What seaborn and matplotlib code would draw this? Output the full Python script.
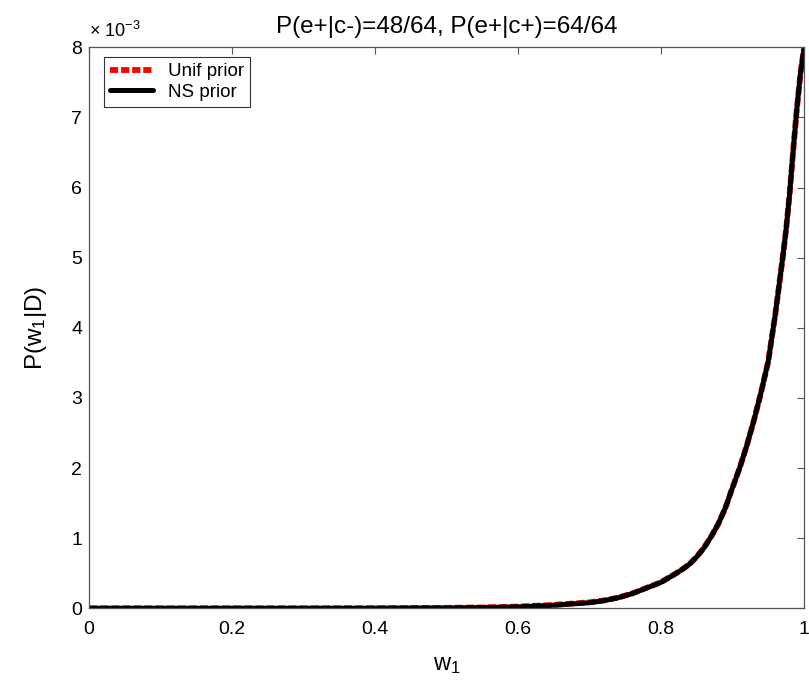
import numpy as np
import pandas as pd
import matplotlib
matplotlib.use("Agg")
import matplotlib.pyplot as plt
from matplotlib.ticker import FuncFormatter, MultipleLocator
import seaborn as sns

# Posterior over the causal strength w1 under two priors
w1 = [0.0, 0.1, 0.2, 0.3, 0.4, 0.5, 0.55, 0.6, 0.65, 0.7, 0.72, 0.74, 0.76,
      0.78, 0.8, 0.82, 0.83, 0.84, 0.85, 0.86, 0.87, 0.88, 0.89, 0.90, 0.91,
      0.92, 0.93, 0.94, 0.95, 0.96, 0.97, 0.975, 0.98, 0.985, 0.99, 0.995,
      1.0]
p_unif = [0.0, 0.0, 0.0, 0.0, 0.000001, 0.000006, 0.000012, 0.000024,
          0.000048, 0.000085, 0.000112, 0.000152, 0.000212, 0.000292,
          0.000372, 0.000492, 0.000557, 0.000632, 0.000735, 0.000862,
          0.00102, 0.0012, 0.00143, 0.00172, 0.002, 0.00232, 0.00268,
          0.00308, 0.00352, 0.0042, 0.00498, 0.0054, 0.00592, 0.00654,
          0.00712, 0.00762, 0.00798]
p_ns = [0.0, 0.0, 0.0, 0.0, 0.000001, 0.000005, 0.00001, 0.00002, 0.000044,
        0.00008, 0.000108, 0.00015, 0.00021, 0.00029, 0.00037, 0.00049,
        0.000555, 0.00063, 0.000733, 0.00086, 0.00102, 0.0012, 0.00143,
        0.00172, 0.002, 0.00232, 0.00268, 0.00308, 0.00352, 0.0042, 0.00498,
        0.0054, 0.00592, 0.00654, 0.00712, 0.00762, 0.00798]

title = "P(e+|c-)=48/64, P(e+|c+)=64/64"

sns.set_style("white")
plt.rcParams["font.family"] = ["Liberation Sans", "DejaVu Sans"]
plt.rcParams["text.color"] = "black"
plt.rcParams["mathtext.fontset"] = "custom"
plt.rcParams["mathtext.rm"] = "Liberation Sans"
plt.rcParams["mathtext.it"] = "Liberation Sans"

fig = plt.figure(figsize=(8.09, 6.85), dpi=100)
ax = fig.add_axes([0.110, 0.112, 0.8838, 0.819])

df = pd.DataFrame({"w1": w1, "unif": p_unif, "ns": p_ns})
sns.lineplot(data=df, x="w1", y="unif", ax=ax, color="red", lw=4.2,
             linestyle=(0, (1.4, 0.5)), label="Unif prior")
sns.lineplot(data=df, x="w1", y="ns", ax=ax, color="black", lw=3.6,
             label="NS prior")

ax.set_xlim(0, 1)
ax.set_ylim(0, 0.008)
ax.xaxis.set_major_locator(MultipleLocator(0.2))
ax.yaxis.set_major_locator(MultipleLocator(0.001))
ax.xaxis.set_major_formatter(FuncFormatter(lambda v, p: f"{v:g}"))
ax.yaxis.set_major_formatter(FuncFormatter(lambda v, p: f"{v * 1e3:g}"))
ax.text(0.0, 1.012, r"$\times$ 10$^{-3}$", transform=ax.transAxes,
        fontsize=13, ha="left", va="bottom", color="black")

ax.tick_params(direction="in", length=5, width=0.8, colors="#555555",
               labelcolor="black", labelsize=14, top=True, right=True)
ax.tick_params(axis="x", pad=9)
ax.tick_params(axis="y", pad=5)
for s in ax.spines.values():
    s.set_color("#555555")
    s.set_linewidth(0.9)

ax.set_title(title, fontsize=17.5, pad=10, color="black")
ax.set_xlabel(r"w$_1$", fontsize=17, labelpad=12, color="black")
ax.set_ylabel(r"P(w$_1$|D)", fontsize=17.5, labelpad=16, color="black")

leg = ax.legend(loc="upper left", bbox_to_anchor=(0.021, 0.982),
                fontsize=13.5, frameon=True, fancybox=False,
                edgecolor="black", handlelength=2.3, handletextpad=0.8,
                borderpad=0.3, labelspacing=0.2, borderaxespad=0.0)
leg.get_frame().set_linewidth(0.8)
for t in leg.get_texts():
    t.set_color("black")

fig.savefig("out.png", dpi=100)
